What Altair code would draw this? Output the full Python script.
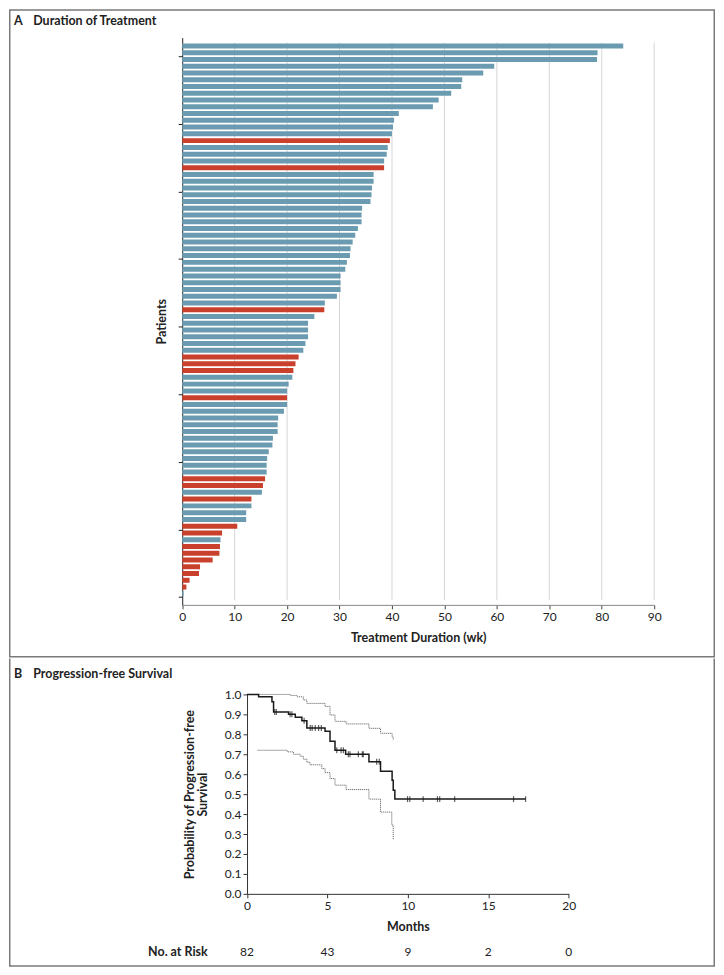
import altair as alt
import pandas as pd

FONT = "Lato"

# ---------------- Panel A: duration of treatment (top bar first) ----------------
durations = [84.1, 79.2, 79.1, 59.5, 57.4, 53.4, 53.2, 51.3, 48.9, 47.8,
             41.3, 40.4, 40.2, 40.0, 39.6, 39.2, 39.0, 38.5, 38.5, 36.5,
             36.5, 36.2, 36.1, 35.9, 34.3, 34.2, 34.2, 33.5, 33.0, 32.5,
             32.1, 32.0, 31.4, 31.1, 30.2, 30.2, 30.2, 29.5, 27.2, 27.1,
             25.2, 24.0, 24.0, 24.0, 23.5, 23.1, 22.2, 21.6, 21.2, 21.0,
             20.3, 20.0, 20.0, 20.0, 19.4, 18.3, 18.2, 18.2, 17.3, 17.2,
             16.5, 16.2, 16.1, 16.1, 15.8, 15.4, 15.2, 13.2, 13.2, 12.2,
             12.2, 10.5, 7.6, 7.3, 7.2, 7.1, 5.8, 3.4, 3.2, 1.4,
             0.8, 0.25]
red_rows = [15, 19, 40, 47, 48, 49, 53, 65, 66, 68, 72, 73, 75, 76, 77, 78, 79, 80, 81]
x_ticks_a = [0, 10, 20, 30, 40, 50, 60, 70, 80, 90]
y_ticks_a = [0, 10, 20, 30, 40, 50, 60, 70, 80]

n = len(durations)
bars = pd.DataFrame({
    "dur": durations,
    "pos": [n - k - 0.5 for k in range(n)],
    "grp": ["red" if (k + 1) in red_rows else "blue" for k in range(n)],
})
grid_a = pd.DataFrame({"dur": x_ticks_a[1:]})

# ---------------- Panel B: progression-free survival ----------------
km_t = [0, 0.72, 1.55, 1.65, 2.58, 3.0, 3.41, 3.72, 4.85, 5.16, 5.47, 6.13, 7.58, 8.3, 9.02, 9.09, 9.19, 17.32]
km_s = [1.0, 0.988, 0.963, 0.912, 0.900, 0.885, 0.868, 0.832, 0.815, 0.765, 0.72, 0.70, 0.662, 0.615, 0.57, 0.52, 0.475, 0.475]

cens_t = [1.72, 1.82, 2.68, 2.79, 3.55, 3.93, 4.05, 4.24, 4.45, 4.62, 5.58, 5.85, 5.99,
          6.3, 6.4, 6.92, 7.17, 7.23, 8.06, 8.22, 9.98, 10.12, 10.95, 11.84, 11.98, 12.91, 16.57, 17.32]
cens_s = [0.912, 0.912, 0.900, 0.900, 0.868, 0.832, 0.832, 0.832, 0.832, 0.832, 0.72, 0.72, 0.72,
          0.70, 0.70, 0.70, 0.70, 0.70, 0.662, 0.662, 0.475, 0.475, 0.475, 0.475, 0.475, 0.475, 0.475, 0.475]

up_t = [0.65, 2.68, 3.1, 3.5, 3.72, 4.85, 5.16, 5.47, 6.16, 7.58, 8.3, 9.02, 9.09]
up_s = [1.0, 0.995, 0.988, 0.972, 0.955, 0.94, 0.897, 0.865, 0.852, 0.83, 0.805, 0.787, 0.77]

lo_t = [0.65, 2.5, 2.89, 3.3, 3.5, 3.72, 3.92, 4.65, 4.85, 5.16, 5.47, 6.16, 7.58, 8.3, 9.0, 9.09]
lo_s = [0.72, 0.712, 0.70, 0.69, 0.675, 0.66, 0.647, 0.628, 0.608, 0.578, 0.545, 0.523, 0.475, 0.41, 0.345, 0.27]

risk_months = [0, 5, 10, 15, 20]
at_risk = [82, 43, 9, 2, 0]
y_ticks_b = [0.0, 0.1, 0.2, 0.3, 0.4, 0.5, 0.6, 0.7, 0.8, 0.9, 1.0]

km = pd.DataFrame({"t": km_t, "s": km_s})
cens = pd.DataFrame({"t": cens_t, "s": cens_s})
ci = pd.concat([
    pd.DataFrame({"t": up_t, "s": up_s, "band": "upper"}),
    pd.DataFrame({"t": lo_t, "s": lo_s, "band": "lower"}),
])
risk = pd.DataFrame({"t": risk_months, "n": [str(v) for v in at_risk]})

# ---------------- layout constants ----------------
W = 708
HA = 650
HB = 309
FRAME = "#7a7a7a"
BLUE = "#6a9bb0"
RED = "#c9402c"
TXT = "#222222"
LBL = 12
TTL = 12.5

one = pd.DataFrame({"a": [0]})

xa = alt.Scale(domain=[0, 90], range=[173.7, 647.0], nice=False)
ya = alt.Scale(domain=[-0.4, 82], range=[597.2, 28.3], nice=False, zero=False)

xa_axis = alt.Axis(orient="bottom", offset=597.2 - HA, values=x_ticks_a, grid=False,
                   labelFlush=False, tickSize=4, tickColor="#444", domainColor="#888",
                   labelFontSize=LBL, labelPadding=3, title="Treatment Duration (wk)",
                   titleFontSize=TTL, titleFontWeight="bold", titlePadding=9)
ya_axis = alt.Axis(orient="left", offset=-173.7, values=y_ticks_a, labels=False, grid=False,
                   tickSize=4, tickColor="#222", domainColor="#222", title="Patients",
                   titleFontSize=TTL, titleFontWeight="bold", titlePadding=9)

frame_a = alt.Chart(one).mark_rect(fillOpacity=0, stroke=FRAME, strokeWidth=1.5).encode(
    x=alt.value(0.75), x2=alt.value(W - 0.75), y=alt.value(0.75), y2=alt.value(HA - 0.75))

grid_layer = alt.Chart(grid_a).mark_rule(color="#d6d6d6", strokeWidth=1).encode(
    x=alt.X("dur:Q", scale=xa, axis=xa_axis),
    y=alt.Y(datum=-0.4, scale=ya, axis=ya_axis), y2=alt.datum(82))

bar_layer = alt.Chart(bars).mark_bar(orient="horizontal", size=5).encode(
    x=alt.X("dur:Q", scale=xa, axis=xa_axis),
    y=alt.Y("pos:Q", scale=ya, axis=ya_axis),
    color=alt.Color("grp:N", scale=alt.Scale(domain=["blue", "red"], range=[BLUE, RED]), legend=None),
)

title_a1 = alt.Chart(one).mark_text(align="left", baseline="alphabetic", fontSize=12.5,
                                     fontWeight="bold", color=TXT).encode(
    x=alt.value(5), y=alt.value(16), text=alt.value("A"))
title_a2 = alt.Chart(one).mark_text(align="left", baseline="alphabetic", fontSize=12.5,
                                     fontWeight="bold", color=TXT).encode(
    x=alt.value(24.3), y=alt.value(16), text=alt.value("Duration of Treatment"))

panel_a = alt.layer(frame_a, grid_layer, bar_layer, title_a1, title_a2).properties(width=W, height=HA)

# ---------------- Panel B ----------------
xb = alt.Scale(domain=[0, 20], range=[238.7, 561.3], nice=False)
yb = alt.Scale(domain=[0, 1], range=[236, 36], nice=False)

xb_axis = alt.Axis(orient="bottom", offset=236 - HB, values=risk_months, grid=False,
                   labelFlush=False, tickSize=4, tickColor="#333", domainColor="#333",
                   labelFontSize=LBL, labelPadding=3, title="Months",
                   titleFontSize=TTL, titleFontWeight="bold", titlePadding=9)
yb_axis = alt.Axis(orient="left", offset=-238.7, values=y_ticks_b, format=".1f", grid=False,
                   tickSize=4, tickColor="#333", domainColor="#333",
                   labelFontSize=LBL, labelPadding=2,
                   title=["Probability of Progression-free", "Survival"],
                   titleFontSize=TTL, titleFontWeight="bold", titlePadding=15,
                   titleLineHeight=13)

frame_b_left = alt.Chart(one).mark_rule(color=FRAME, strokeWidth=1.5).encode(
    x=alt.value(0.75), y=alt.value(0), y2=alt.value(HB - 0.75))
frame_b_right = alt.Chart(one).mark_rule(color=FRAME, strokeWidth=1.5).encode(
    x=alt.value(W - 0.75), y=alt.value(0), y2=alt.value(HB - 0.75))
frame_b_bottom = alt.Chart(one).mark_rule(color=FRAME, strokeWidth=1.5).encode(
    x=alt.value(0), x2=alt.value(W), y=alt.value(HB - 0.75))

ci_layer = alt.Chart(ci).mark_line(interpolate="step-after", color="#6f6f6f", strokeWidth=1,
                                   strokeDash=[1.2, 0.8]).encode(
    x=alt.X("t:Q", scale=xb, axis=xb_axis),
    y=alt.Y("s:Q", scale=yb, axis=yb_axis),
    detail="band:N")

km_layer = alt.Chart(km).mark_line(interpolate="step-after", color="#1a1a1a", strokeWidth=1.5).encode(
    x=alt.X("t:Q", scale=xb, axis=xb_axis),
    y=alt.Y("s:Q", scale=yb, axis=yb_axis),
)

cens_layer = alt.Chart(cens).mark_tick(orient="vertical", size=6, thickness=1.2, color="#1a1a1a").encode(
    x=alt.X("t:Q", scale=xb, axis=xb_axis), y=alt.Y("s:Q", scale=yb, axis=yb_axis))

risk_label = alt.Chart(one).mark_text(align="right", baseline="middle", fontSize=12.5,
                                       fontWeight="bold", color=TXT).encode(
    x=alt.value(199.3), y=alt.value(294.7), text=alt.value("No. at Risk"))
risk_nums = alt.Chart(risk).mark_text(align="center", baseline="middle", fontSize=LBL, color=TXT).encode(
    x=alt.X("t:Q", scale=xb, axis=xb_axis), y=alt.value(294.7), text="n:N")

title_b1 = alt.Chart(one).mark_text(align="left", baseline="alphabetic", fontSize=12.5,
                                     fontWeight="bold", color=TXT).encode(
    x=alt.value(5), y=alt.value(19.5), text=alt.value("B"))
title_b2 = alt.Chart(one).mark_text(align="left", baseline="alphabetic", fontSize=12.5,
                                     fontWeight="bold", color=TXT).encode(
    x=alt.value(24.3), y=alt.value(19.5), text=alt.value("Progression-free Survival"))

panel_b = alt.layer(frame_b_left, frame_b_right, frame_b_bottom, ci_layer, km_layer, cens_layer,
                    risk_label, risk_nums, title_b1, title_b2).properties(width=W, height=HB)

chart = alt.vconcat(panel_a, panel_b, spacing=0).properties(padding=0).configure_view(
    stroke=None).configure_axis(labelFont=FONT, titleFont=FONT, labelColor=TXT, titleColor=TXT
).configure_text(font=FONT)

chart.save("out.html", embed_options={"renderer": "svg", "actions": False})
